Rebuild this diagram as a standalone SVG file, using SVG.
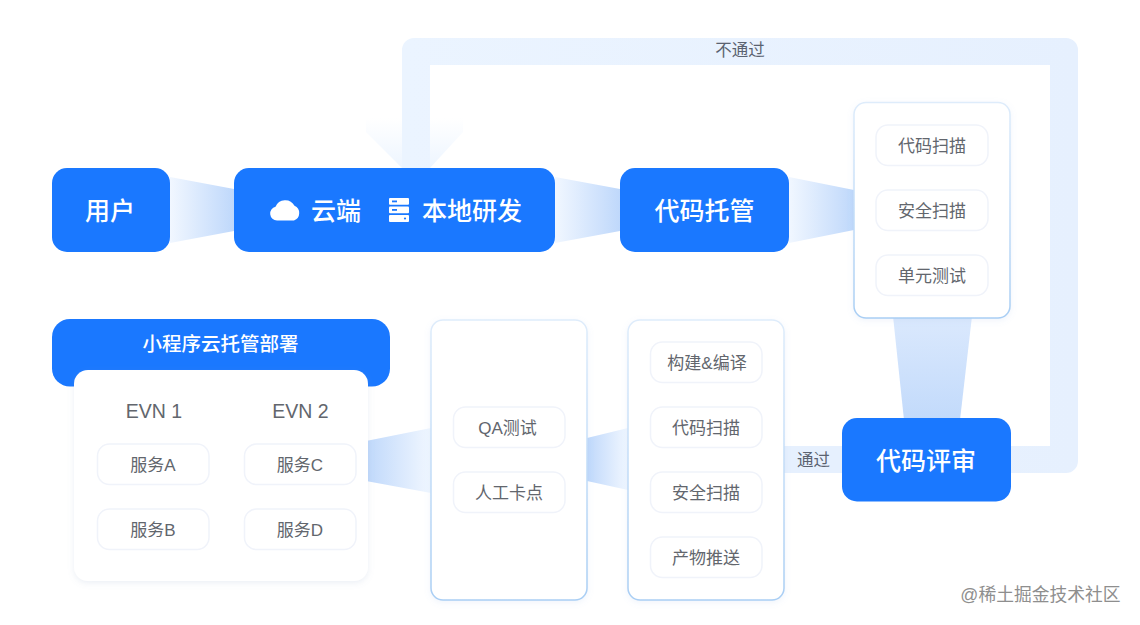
<svg xmlns="http://www.w3.org/2000/svg" width="1140" height="625" viewBox="0 0 1140 625">
<style>
text{font-family:"Liberation Sans","Noto Sans CJK SC","Noto Sans",sans-serif;text-anchor:middle}
.blue{fill:#1a78ff}
.w25{fill:#fff;font-size:25px;font-weight:500}
.w19{fill:#fff;font-size:19.5px;font-weight:500}
.t17{fill:#62666d;font-size:17px}
.t19{fill:#62666d;font-size:19.500px}
.lbl{fill:#5a6270;font-size:16.5px}
.chip{fill:#fff;stroke:#f0f3fa;stroke-width:1.5}
.panel{fill:#fff;stroke:url(#panelStroke);stroke-width:1.5;filter:url(#soft)}
.card{fill:#fff;filter:url(#softer)}
.loop{fill:url(#loopFill)}
</style>
<defs>
<linearGradient id="loopFill" gradientUnits="userSpaceOnUse" x1="402" y1="0" x2="1078" y2="0"><stop offset="0" stop-color="#ebf4ff"/><stop offset="1" stop-color="#e6f0fe"/></linearGradient>
<linearGradient id="panelStroke" x1="0" y1="0" x2="0" y2="1"><stop offset="0" stop-color="#deecfb"/><stop offset="1" stop-color="#a9cef4"/></linearGradient>
<linearGradient id="toRight" x1="0" y1="0" x2="1" y2="0"><stop offset="0" stop-color="#f1f7ff"/><stop offset="1" stop-color="#bfd8fb"/></linearGradient>
<linearGradient id="toLeft" x1="0" y1="0" x2="1" y2="0"><stop offset="0" stop-color="#bfd8fb"/><stop offset="1" stop-color="#f1f7ff"/></linearGradient>
<linearGradient id="toDown" x1="0" y1="0" x2="0" y2="1"><stop offset="0" stop-color="#dbe9fd"/><stop offset="1" stop-color="#c2dafb"/></linearGradient>
<linearGradient id="head" x1="0" y1="1" x2="0" y2="0"><stop offset="0" stop-color="#edf5ff"/><stop offset="1" stop-color="#ffffff"/></linearGradient>
<filter id="soft" x="-10%" y="-10%" width="120%" height="120%"><feDropShadow dx="0" dy="2" stdDeviation="3" flood-color="#7fa8e0" flood-opacity="0.12"/></filter>
<filter id="softer" x="-10%" y="-10%" width="120%" height="120%"><feDropShadow dx="0" dy="2" stdDeviation="3" flood-color="#7f96c0" flood-opacity="0.16"/></filter>
</defs>
<rect width="1140" height="625" fill="#ffffff"/>

<g id="connectors">
<polygon points="366,132 402,168 430,168 463,132 463,118 366,118" fill="url(#head)"/>
<path class="loop" d="M402,168V50a12,12 0 0 1 12,-12H1066a12,12 0 0 1 12,12V461a12,12 0 0 1 -12,12H1005V446H1050V65H430V168Z"/>
<rect x="780" y="446" width="66" height="27" fill="#e6f0fe"/>
<polygon points="170,177 234,189 234,231 170,243" fill="url(#toRight)"/>
<polygon points="555,177 620,189 620,231 555,243" fill="url(#toRight)"/>
<polygon points="789,177 854,190 854,230 789,243" fill="url(#toRight)"/>
<polygon points="893,316 972,316 960,420 904,420" fill="url(#toDown)"/>
<polygon points="366,441 431,428 431,493 366,481" fill="url(#toLeft)"/>
<polygon points="587,438 628,428 628,490 587,481" fill="url(#toLeft)"/>
</g>

<g id="label-fail"><text class="lbl" x="740" y="56">不通过</text></g>
<g id="label-pass"><text class="lbl" x="813.500" y="466">通过</text></g>

<g id="node-user">
<rect class="blue" x="52" y="168" width="118" height="84" rx="15"/>
<text class="w25" x="110" y="220">用户</text>
</g>

<g id="node-dev">
<rect class="blue" x="234" y="168" width="321" height="84" rx="15"/>
<path fill="#fff" d="M277,220.500a7,7 0 0 1 -1.500,-13.800a10.500,10.500 0 0 1 19,-1a8,8 0 0 1 -0.500,14.800Z"/>
<text class="w25" x="336" y="220">云端</text>
<rect fill="#fff" x="389" y="198" width="20" height="6.800" rx="1"/>
<rect fill="#fff" x="389" y="206.500" width="20" height="6.800" rx="1"/>
<rect fill="#fff" x="389" y="215" width="20" height="7" rx="1"/>
<rect class="blue" x="392" y="200.500" width="5" height="1.800"/>
<rect class="blue" x="392" y="209" width="5" height="1.800"/>
<circle class="blue" cx="405" cy="218.500" r="1.100"/>
<text class="w25" x="472" y="220">本地研发</text>
</g>

<g id="node-hosting">
<rect class="blue" x="620" y="168" width="169" height="84" rx="15"/>
<text class="w25" x="704.500" y="220">代码托管</text>
</g>

<g id="node-checks">
<rect class="panel" x="854" y="102.500" width="156" height="215.500" rx="12"/>
<rect class="chip" x="876" y="125" width="112" height="40.500" rx="12"/>
<text class="t17" x="932" y="151.500">代码扫描</text>
<rect class="chip" x="876" y="190" width="112" height="40.500" rx="12"/>
<text class="t17" x="932" y="216.500">安全扫描</text>
<rect class="chip" x="876" y="255" width="112" height="40.500" rx="12"/>
<text class="t17" x="932" y="281.500">单元测试</text>
</g>

<g id="node-review">
<rect class="blue" x="842" y="418" width="169" height="83.500" rx="15"/>
<text class="w25" x="926" y="470">代码评审</text>
</g>

<g id="node-build">
<rect class="panel" x="628" y="320" width="156" height="280" rx="12"/>
<rect class="chip" x="650.500" y="342" width="111.500" height="40.500" rx="12"/>
<text class="t17" x="707" y="368.500">构建&amp;编译</text>
<rect class="chip" x="650.500" y="407" width="111.500" height="40.500" rx="12"/>
<text class="t17" x="706" y="433.500">代码扫描</text>
<rect class="chip" x="650.500" y="472" width="111.500" height="40.500" rx="12"/>
<text class="t17" x="706" y="498.500">安全扫描</text>
<rect class="chip" x="650.500" y="537" width="111.500" height="40.500" rx="12"/>
<text class="t17" x="706" y="563.500">产物推送</text>
</g>

<g id="node-qa">
<rect class="panel" x="431" y="320" width="156" height="280" rx="12"/>
<rect class="chip" x="453.500" y="407" width="111.500" height="40.500" rx="12"/>
<text class="t17" x="507.500" y="433.500">QA测试</text>
<rect class="chip" x="453.500" y="472" width="111.500" height="40.500" rx="12"/>
<text class="t17" x="509" y="498.500">人工卡点</text>
</g>

<g id="node-deploy">
<rect class="blue" x="52" y="319" width="338" height="67.500" rx="18"/>
<text class="w19" x="220.500" y="351">小程序云托管部署</text>
<rect class="card" x="74" y="370" width="294" height="211" rx="14"/>
<text class="t19" x="154" y="418">EVN 1</text>
<text class="t19" x="300.500" y="418">EVN 2</text>
<rect class="chip" x="97.500" y="444" width="111.500" height="40.500" rx="12"/>
<text class="t17" x="153" y="470.500">服务A</text>
<rect class="chip" x="97.500" y="509" width="111.500" height="40.500" rx="12"/>
<text class="t17" x="153" y="535.500">服务B</text>
<rect class="chip" x="244.500" y="444" width="111.500" height="40.500" rx="12"/>
<text class="t17" x="300" y="470.500">服务C</text>
<rect class="chip" x="244.500" y="509" width="111.500" height="40.500" rx="12"/>
<text class="t17" x="300" y="535.500">服务D</text>
</g>

<text x="1040.500" y="601" style="font-size:17.800px;fill:#8e8e8e">@稀土掘金技术社区</text>
</svg>
